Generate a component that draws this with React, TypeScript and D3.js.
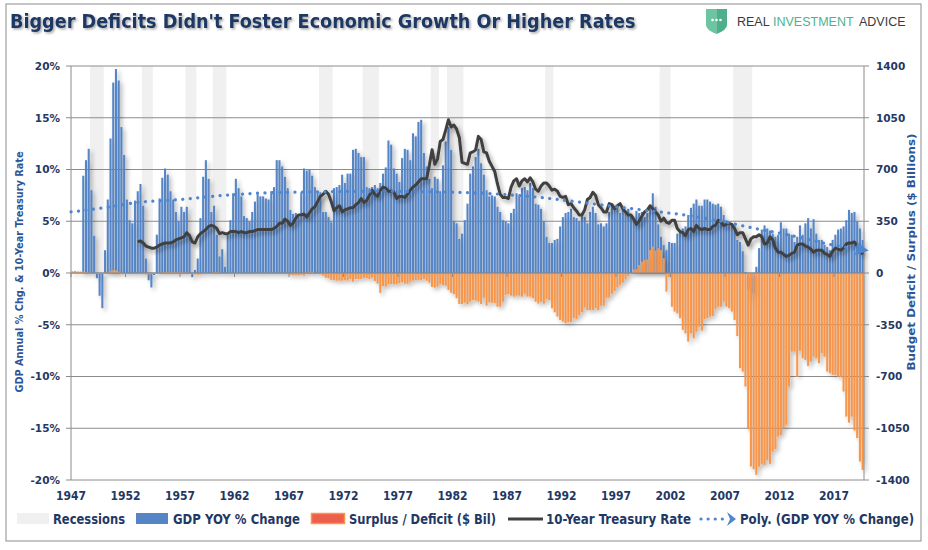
import React from "react";
import * as d3 from "d3";

// ---------- DATA (quarterly, starting 1947Q1) ----------
const START_YEAR = 1947;

// Nominal GDP, year-over-year % change
const gdpYoY: (number | null)[] = [
  null, null, null, null, // 1947
  9.4, 10.9, 12.0, 8.0, // 1948
  3.6, -0.5, -2.2, -3.4, // 1949
  2.2, 7.1, 13.0, 18.4, // 1950
  19.7, 18.6, 14.1, 11.4, // 1951
  7.1, 5.1, 4.8, 7.0, // 1952
  7.9, 8.6, 6.5, 1.4, // 1953
  -0.7, -1.4, -0.2, 3.7, // 1954
  7.2, 9.2, 10.1, 9.5, // 1955
  7.9, 7.1, 5.9, 5.0, // 1956
  6.4, 5.9, 6.4, 3.8, // 1957
  -0.4, 0.3, 1.4, 5.3, // 1958
  9.3, 10.9, 9.1, 5.9, // 1959
  6.5, 3.7, 1.6, 2.3, // 1960
  0.6, 3.8, 5.1, 7.7, // 1961
  9.1, 8.2, 7.4, 5.5, // 1962
  5.3, 5.0, 5.9, 6.9, // 1963
  7.6, 7.4, 7.4, 7.2, // 1964
  7.1, 7.9, 8.3, 10.9, // 1965
  10.9, 10.3, 9.3, 8.2, // 1966
  6.1, 5.7, 5.8, 5.4, // 1967
  7.8, 10.1, 9.9, 10.0, // 1968
  9.4, 8.3, 7.8, 7.8, // 1969
  5.9, 5.9, 5.4, 4.9, // 1970
  8.2, 8.3, 8.5, 9.5, // 1971
  8.7, 9.6, 9.6, 11.9, // 1972
  12.0, 11.6, 11.2, 11.2, // 1973
  8.3, 8.2, 8.3, 8.5, // 1974
  8.2, 8.7, 9.6, 10.2, // 1975
  12.8, 12.4, 10.1, 9.6, // 1976
  8.8, 11.1, 12.0, 11.9, // 1977
  10.9, 13.5, 13.2, 14.6, // 1978
  14.8, 11.6, 10.3, 9.1, // 1979
  8.2, 9.3, 9.1, 7.9, // 1980
  10.4, 12.7, 14.1, 11.9, // 1981
  5.0, 4.8, 3.3, 3.8, // 1982
  5.1, 6.7, 9.6, 10.3, // 1983
  11.2, 12.0, 10.6, 9.5, // 1984
  8.0, 7.4, 7.5, 7.4, // 1985
  6.4, 5.9, 5.1, 5.0, // 1986
  4.8, 5.8, 6.2, 7.7, // 1987
  7.4, 8.2, 8.3, 8.0, // 1988
  8.7, 8.2, 6.7, 6.6, // 1989
  6.2, 5.0, 3.5, 2.9, // 1990
  2.9, 3.2, 3.3, 4.5, // 1991
  5.4, 5.8, 5.9, 6.2, // 1992
  5.4, 5.3, 5.0, 5.8, // 1993
  5.4, 4.8, 5.9, 6.4, // 1994
  5.8, 4.7, 4.8, 4.5, // 1995
  4.8, 5.9, 6.7, 6.4, // 1996
  6.4, 5.8, 6.2, 5.8, // 1997
  6.2, 5.6, 5.3, 6.0, // 1998
  5.8, 5.9, 5.4, 5.8, // 1999
  6.6, 7.7, 6.4, 4.7, // 2000
  3.5, 2.7, 2.2, 3.0, // 2001
  2.9, 2.9, 3.8, 4.1, // 2002
  4.3, 4.5, 5.6, 6.3, // 2003
  6.7, 7.1, 6.5, 6.5, // 2004
  7.1, 7.1, 6.9, 6.7, // 2005
  6.6, 6.7, 6.4, 5.6, // 2006
  5.1, 4.8, 4.6, 4.5, // 2007
  3.2, 3.0, 2.1, 0.1, // 2008
  -1.6, -2.7, -2.0, 0.6, // 2009
  2.4, 4.2, 4.6, 4.3, // 2010
  4.1, 3.8, 3.5, 3.7, // 2011
  4.9, 4.3, 4.3, 3.8, // 2012
  3.7, 3.0, 3.5, 4.6, // 2013
  3.7, 4.8, 5.3, 4.3, // 2014
  5.2, 3.8, 3.2, 3.2, // 2015
  2.7, 2.5, 2.2, 3.2, // 2016
  3.7, 4.2, 4.3, 4.5, // 2017
  5.1, 6.1, 5.8, 5.9, // 2018
  5.0, 4.3, 3.2, // 2019
];

// Federal surplus / deficit, $ billions
const budgetBalance: number[] = [
  12, 14, 11, 10, // 1947
  11, 6, 3, -2, // 1948
  -4, -5, -6, -5, // 1949
  2, 4, 15, 20, // 1950
  18, 8, 2, -1, // 1951
  -3, -5, -6, -6, // 1952
  -6, -7, -8, -10, // 1953
  -9, -7, -6, -4, // 1954
  2, 4, 5, 6, // 1955
  6, 5, 4, 5, // 1956
  5, 4, 3, -2, // 1957
  -7, -11, -12, -10, // 1958
  -6, -2, -4, -3, // 1959
  4, 5, 2, -2, // 1960
  -5, -7, -6, -5, // 1961
  -5, -5, -5, -6, // 1962
  -3, -2, -2, -3, // 1963
  -6, -7, -5, -4, // 1964
  -2, -1, -2, -5, // 1965
  -3, -2, -4, -8, // 1966
  -12, -16, -15, -16, // 1967
  -13, -18, 3, 5, // 1968
  9, 0, -5, -9, // 1969
  -18, -32, -36, -47, // 1970
  -47, -52, -52, -52, // 1971
  -47, -52, -41, -59, // 1972
  -41, -41, -41, -32, // 1973
  -36, -41, -32, -54, // 1974
  -72, -135, -88, -92, // 1975
  -77, -74, -77, -77, // 1976
  -70, -63, -72, -72, // 1977
  -59, -52, -47, -47, // 1978
  -47, -41, -52, -65, // 1979
  -95, -99, -92, -74, // 1980
  -81, -86, -115, -133, // 1981
  -142, -171, -210, -210, // 1982
  -200, -212, -194, -183, // 1983
  -187, -194, -210, -167, // 1984
  -221, -200, -200, -205, // 1985
  -228, -228, -194, -149, // 1986
  -144, -153, -160, -153, // 1987
  -153, -160, -140, -160, // 1988
  -160, -171, -194, -207, // 1989
  -194, -207, -178, -183, // 1990
  -239, -266, -295, -318, // 1991
  -329, -340, -333, -333, // 1992
  -306, -311, -284, -266, // 1993
  -234, -250, -250, -250, // 1994
  -239, -250, -221, -221, // 1995
  -171, -167, -140, -122, // 1996
  -99, -80, -65, -45, // 1997
  -20, -5, 25, 25, // 1998
  54, 77, 88, 92, // 1999
  155, 178, 151, 167, // 2000
  155, 99, -126, -29, // 2001
  -228, -261, -273, -306, // 2002
  -385, -408, -464, -408, // 2003
  -442, -397, -363, -390, // 2004
  -313, -306, -295, -291, // 2005
  -246, -228, -228, -194, // 2006
  -228, -239, -261, -318, // 2007
  -426, -644, -667, -768, // 2008
  -1057, -1309, -1327, -1365, // 2009
  -1309, -1291, -1298, -1264, // 2010
  -1291, -1208, -1192, -1106, // 2011
  -1095, -1050, -1027, -768, // 2012
  -532, -532, -701, -525, // 2013
  -577, -588, -629, -599, // 2014
  -566, -577, -611, -543, // 2015
  -566, -667, -678, -689, // 2016
  -689, -701, -705, -802, // 2017
  -971, -1012, -971, -1066, // 2018
  -1117, -1275, -1332, // 2019
];

// 10-Year Treasury rate, %
const treasury10y: (number | null)[] = [
  null, null, null, null, null, null, null, null, null, null, null, null, // 1947-1949
  null, null, null, null, null, null, null, null, null, null, null, null, // 1950-1952
  3.0, 3.1, 2.9, 2.6, // 1953
  2.5, 2.4, 2.4, 2.5, // 1954
  2.7, 2.8, 2.9, 2.9, // 1955
  2.9, 3.0, 3.2, 3.3, // 1956
  3.4, 3.5, 3.9, 3.6, // 1957
  3.0, 2.9, 3.5, 3.8, // 1958
  4.0, 4.2, 4.5, 4.6, // 1959
  4.5, 4.3, 3.8, 3.9, // 1960
  3.8, 3.8, 4.0, 4.0, // 1961
  4.0, 3.9, 4.0, 3.9, // 1962
  3.9, 4.0, 4.0, 4.1, // 1963
  4.2, 4.2, 4.2, 4.2, // 1964
  4.2, 4.2, 4.3, 4.5, // 1965
  4.8, 4.8, 5.2, 5.0, // 1966
  4.6, 4.8, 5.3, 5.6, // 1967
  5.6, 5.7, 5.4, 5.8, // 1968
  6.2, 6.4, 6.9, 7.4, // 1969
  7.6, 7.9, 7.6, 6.9, // 1970
  6.0, 6.3, 6.5, 5.9, // 1971
  6.1, 6.2, 6.3, 6.3, // 1972
  6.6, 6.8, 7.2, 6.8, // 1973
  7.0, 7.5, 8.0, 7.6, // 1974
  7.4, 8.0, 8.3, 8.2, // 1975
  7.9, 7.9, 7.8, 7.2, // 1976
  7.4, 7.4, 7.3, 7.6, // 1977
  8.0, 8.3, 8.5, 8.8, // 1978
  9.1, 9.1, 9.1, 10.4, // 1979
  11.9, 10.5, 11.0, 12.7, // 1980
  12.9, 13.8, 14.8, 14.1, // 1981
  14.3, 13.9, 13.1, 10.7, // 1982
  10.6, 10.5, 11.6, 11.7, // 1983
  11.9, 13.2, 12.9, 11.7, // 1984
  11.6, 10.8, 10.3, 9.8, // 1985
  8.6, 7.6, 7.3, 7.3, // 1986
  7.2, 8.3, 8.9, 9.1, // 1987
  8.4, 8.9, 9.1, 8.8, // 1988
  9.2, 8.8, 8.1, 7.9, // 1989
  8.4, 8.7, 8.7, 8.4, // 1990
  8.0, 8.1, 7.9, 7.4, // 1991
  7.3, 7.4, 6.6, 6.7, // 1992
  6.3, 6.0, 5.6, 5.6, // 1993
  6.1, 7.1, 7.3, 7.8, // 1994
  7.5, 6.6, 6.3, 5.9, // 1995
  5.9, 6.7, 6.6, 6.2, // 1996
  6.5, 6.7, 6.2, 5.9, // 1997
  5.6, 5.6, 5.2, 4.7, // 1998
  5.0, 5.5, 5.9, 6.1, // 1999
  6.5, 6.2, 5.9, 5.6, // 2000
  5.0, 5.3, 4.9, 4.8, // 2001
  5.1, 5.1, 4.3, 4.0, // 2002
  3.9, 3.6, 4.2, 4.3, // 2003
  4.0, 4.6, 4.3, 4.2, // 2004
  4.3, 4.2, 4.2, 4.5, // 2005
  4.6, 5.1, 4.9, 4.6, // 2006
  4.7, 4.8, 4.7, 4.3, // 2007
  3.7, 3.9, 3.9, 3.3, // 2008
  2.7, 3.3, 3.5, 3.5, // 2009
  3.7, 3.5, 2.8, 2.9, // 2010
  3.5, 3.2, 2.4, 2.0, // 2011
  2.0, 1.8, 1.6, 1.7, // 2012
  1.9, 2.0, 2.7, 2.8, // 2013
  2.8, 2.6, 2.5, 2.3, // 2014
  2.0, 2.2, 2.2, 2.2, // 2015
  1.9, 1.8, 1.6, 2.1, // 2016
  2.4, 2.3, 2.2, 2.4, // 2017
  2.8, 2.9, 2.9, 3.0, // 2018
  2.6, 2.3, 1.8, // 2019
];

// Recession periods (first and last quarter shaded)
const recessionStarts = ["1948Q4", "1953Q3", "1957Q3", "1960Q1", "1969Q4", "1973Q4", "1980Q1", "1981Q3", "1990Q3", "2001Q1", "2007Q4"];
const recessionEnds = ["1949Q4", "1954Q2", "1958Q2", "1961Q1", "1970Q4", "1975Q1", "1980Q3", "1982Q4", "1991Q1", "2001Q4", "2009Q2"];

// Polynomial trend of GDP YOY % change
const trendYears = [1947, 1950, 1953, 1957, 1961, 1965, 1970, 1975, 1980, 1985, 1990, 1994, 1997, 2001, 2004, 2008, 2010, 2012, 2014, 2016, 2018, 2019.6];
const trendValues = [5.9, 6.3, 6.8, 7.1, 7.5, 7.75, 7.85, 7.9, 7.85, 7.7, 7.3, 6.8, 6.4, 5.9, 5.5, 4.7, 4.25, 3.85, 3.4, 2.9, 2.5, 2.25];

const xTickYears = [1947, 1952, 1957, 1962, 1967, 1972, 1977, 1982, 1987, 1992, 1997, 2002, 2007, 2012, 2017];
const leftTicks = [20, 15, 10, 5, 0, -5, -10, -15, -20];
const rightTicks = [1400, 1050, 700, 350, 0, -350, -700, -1050, -1400];

// ---------- STYLE ----------
const W = 928;
const H = 550;
const PL = 71;
const PR = 864;
const PT = 66;
const PB = 480;
const NAVY = "#1F3864";
const AXIS_TITLE = "#2F5597";
const BLUE = "#5685C6";
const ORANGE = "#F7964B";
const GRID = "#8C8C8C";
const LINE = "#404040";
const TREND = "#4F86D0";
const NARROW = "'Liberation Sans Narrow', 'DejaVu Sans Condensed', 'Arial Narrow', sans-serif";
const BOLDSANS = "'DejaVu Sans', Verdana, sans-serif";
const LOGOFONT = "'Liberation Sans', Arial, sans-serif";

export default function App() {
  const quarters = gdpYoY.map((_, i) => `${START_YEAR + Math.floor(i / 4)}Q${(i % 4) + 1}`);

  const x = d3.scaleBand<string>().domain(quarters).range([PL, PR]).paddingInner(0.24).paddingOuter(0.12);
  const step = x.step();
  const edge = (q: string) => (x(q) as number) - step * 0.12;
  const center = (q: string) => (x(q) as number) + x.bandwidth() / 2;
  const xq = d3.scaleLinear().domain([0, quarters.length]).range([PL, PR]);

  const yL = d3.scaleLinear().domain([-20, 20]).range([PB, PT]);
  const yR = d3.scaleLinear().domain([-1400, 1400]).range([PB, PT]);

  const linePath = d3
    .line<number | null>()
    .defined((d) => d !== null)
    .x((_, i) => center(quarters[i]))
    .y((d) => yL(d as number))
    .curve(d3.curveLinear)(treasury10y) as string;

  const trendPath = d3
    .line<number>()
    .x((_, i) => xq((trendYears[i] - START_YEAR) * 4))
    .y((d) => yL(d))
    .curve(d3.curveMonotoneX)(trendValues) as string;

  return (
    <svg width={W} height={H} style={{ position: "absolute", left: 0, top: 0, background: "#fff" }}>
      <defs>
        <filter id="barShadow" x="-10%" y="-10%" width="130%" height="130%">
          <feDropShadow dx="2.5" dy="2.5" stdDeviation="2" floodColor="#000" floodOpacity="0.3" />
        </filter>
        <filter id="lineShadow" x="-10%" y="-10%" width="130%" height="130%">
          <feDropShadow dx="2.5" dy="3" stdDeviation="2" floodColor="#000" floodOpacity="0.35" />
        </filter>
        <filter id="titleShadow" x="-5%" y="-20%" width="110%" height="150%">
          <feDropShadow dx="1.5" dy="1.5" stdDeviation="1" floodColor="#000" floodOpacity="0.35" />
        </filter>
        <linearGradient id="shield" x1="0" x2="1" y1="0" y2="0">
          <stop offset="0" stopColor="#6CC4A2" />
          <stop offset="0.5" stopColor="#6CC4A2" />
          <stop offset="0.5" stopColor="#4FAE8B" />
          <stop offset="1" stopColor="#4FAE8B" />
        </linearGradient>
        <marker id="arrow" viewBox="0 0 10 10" refX="5" refY="5" markerWidth="4" markerHeight="4" orient="auto" markerUnits="strokeWidth">
          <path d="M0,0 L10,5 L0,10 z" fill={TREND} />
        </marker>
      </defs>

      {/* outer border */}
      <rect x={6} y={4} width={915} height={537} fill="#fff" stroke="#8C8C8C" strokeWidth={1} />

      {/* title */}
      <text
        x={10}
        y={28}
        fontFamily={NARROW}
        fontWeight="bold"
        fontSize={19.6}
        fill={NAVY}
        filter="url(#titleShadow)"
      >
        Bigger Deficits Didn't Foster Economic Growth Or Higher Rates
      </text>

      {/* logo */}
      <path d="M706,9 L727,9 L727,25 Q727,30 716.5,34 Q706,30 706,25 Z" fill="url(#shield)" />
      {[712.5, 716.5, 720.5].map((cx) => (
        <circle key={cx} cx={cx} cy={20} r={1.3} fill="#fff" />
      ))}
      <text x={737} y={26} fontFamily={LOGOFONT} fontSize={12.5} fill="#3A3A3A">
        REAL
      </text>
      <text x={773} y={26} fontFamily={LOGOFONT} fontSize={12.5} fill="#4DB38E">
        INVESTMENT
      </text>
      <text x={859} y={26} fontFamily={LOGOFONT} fontSize={12.5} fill="#3A3A3A">
        ADVICE
      </text>

      {/* recessions */}
      <g>
        {recessionStarts.map((s, i) => {
          const e = recessionEnds[i];
          const x0 = edge(s);
          const x1 = edge(e) + step;
          return <rect key={s} x={x0} y={yL(20)} width={x1 - x0} height={yL(0) - yL(20)} fill="#F0F0F0" />;
        })}
      </g>

      {/* gridlines */}
      <g>
        {leftTicks.map((t) => (
          <line key={t} x1={PL} x2={PR} y1={yL(t)} y2={yL(t)} stroke={GRID} strokeWidth={1} />
        ))}
      </g>

      {/* GDP bars */}
      <g filter="url(#barShadow)">
        {gdpYoY.map((v, i) =>
          v === null ? null : (
            <rect
              key={i}
              x={x(quarters[i])}
              width={x.bandwidth()}
              y={Math.min(yL(v), yL(0))}
              height={Math.abs(yL(v) - yL(0))}
              fill={BLUE}
            />
          )
        )}
      </g>

      {/* Surplus / deficit bars */}
      <g filter="url(#barShadow)">
        {budgetBalance.map((v, i) => (
          <rect
            key={i}
            x={x(quarters[i])}
            width={x.bandwidth()}
            y={Math.min(yR(v), yR(0))}
            height={Math.max(0.8, Math.abs(yR(v) - yR(0)))}
            fill={ORANGE}
          />
        ))}
      </g>

      {/* zero line + axes */}
      <line x1={PL} x2={PR} y1={yL(0)} y2={yL(0)} stroke={GRID} strokeWidth={1} />
      {xTickYears.map((yr) => (
        <line key={yr} x1={edge(`${yr}Q1`)} x2={edge(`${yr}Q1`)} y1={yL(0)} y2={yL(0) + 4} stroke={GRID} />
      ))}
      <line x1={PL} x2={PL} y1={PT} y2={PB} stroke={GRID} />
      <line x1={PR} x2={PR} y1={PT} y2={PB} stroke={GRID} />
      {leftTicks.map((t) => (
        <line key={"lt" + t} x1={PL - 5} x2={PL} y1={yL(t)} y2={yL(t)} stroke={GRID} />
      ))}
      {rightTicks.map((t) => (
        <line key={"rt" + t} x1={PR} x2={PR + 5} y1={yR(t)} y2={yR(t)} stroke={GRID} />
      ))}

      {/* treasury line */}
      <path d={linePath} fill="none" stroke={LINE} strokeWidth={3} strokeLinejoin="round" filter="url(#lineShadow)" />

      {/* polynomial trend */}
      <path
        d={trendPath}
        fill="none"
        stroke={TREND}
        strokeWidth={3.2}
        strokeLinecap="round"
        strokeDasharray="0.1 7.4"
        markerEnd="url(#arrow)"
      />

      {/* left axis labels */}
      {leftTicks.map((t) => (
        <text key={"ll" + t} x={60} y={yL(t)} dy="0.36em" textAnchor="end" fontFamily={BOLDSANS} fontWeight="bold" fontSize={10.5} fill={NAVY}>
          {`${t}%`}
        </text>
      ))}
      {/* right axis labels */}
      {rightTicks.map((t) => (
        <text key={"rl" + t} x={876} y={yR(t)} dy="0.36em" textAnchor="start" fontFamily={BOLDSANS} fontWeight="bold" fontSize={10.5} fill={NAVY}>
          {t}
        </text>
      ))}
      {/* x labels */}
      {xTickYears.map((yr) => (
        <text key={"xl" + yr} x={edge(`${yr}Q1`)} y={500} textAnchor="middle" fontFamily={NARROW} fontWeight="bold" fontSize={12} fill={NAVY}>
          {yr}
        </text>
      ))}

      {/* axis titles */}
      <text
        transform={`translate(23,272) rotate(-90)`}
        textAnchor="middle"
        fontFamily={BOLDSANS}
        fontWeight="bold"
        fontSize={10.5}
        fill={AXIS_TITLE}
        textLength={241}
        lengthAdjust="spacingAndGlyphs"
      >
        GDP Annual % Chg. &amp; 10-Year Treasury Rate
      </text>
      <text
        transform={`translate(915,252) rotate(-90)`}
        textAnchor="middle"
        fontFamily={BOLDSANS}
        fontWeight="bold"
        fontSize={10.5}
        fill={AXIS_TITLE}
        textLength={237}
        lengthAdjust="spacingAndGlyphs"
      >
        Budget Deficit / Surplus ($ Billions)
      </text>

      {/* legend */}
      <g fontFamily={NARROW} fontWeight="bold" fontSize={14} fill={NAVY}>
        <rect x={17} y={513} width={32} height={11} fill="#F0F0F0" />
        <text x={53} y={524} textLength={72} lengthAdjust="spacingAndGlyphs">Recessions</text>
        <rect x={136} y={513} width={32} height={11} fill={BLUE} />
        <text x={173} y={524} textLength={127} lengthAdjust="spacingAndGlyphs">GDP YOY % Change</text>
        <rect x={311.5} y={513.5} width={33} height={10} fill="#EE5E4C" stroke={ORANGE} strokeWidth={1.5} />
        <text x={349} y={524} textLength={147} lengthAdjust="spacingAndGlyphs">Surplus / Deficit ($ Bil)</text>
        <line x1={508} x2={543} y1={519} y2={519} stroke={LINE} strokeWidth={3} />
        <text x={546} y={524} textLength={145} lengthAdjust="spacingAndGlyphs">10-Year Treasury Rate</text>
        <line x1={701} x2={728} y1={519} y2={519} stroke={TREND} strokeWidth={3.2} strokeLinecap="round" strokeDasharray="0.1 7" />
        <path d="M727,512 L736,519 L727,526 L730,519 Z" fill={TREND} />
        <text x={740} y={524} textLength={174} lengthAdjust="spacingAndGlyphs">Poly. (GDP YOY % Change)</text>
      </g>
    </svg>
  );
}
